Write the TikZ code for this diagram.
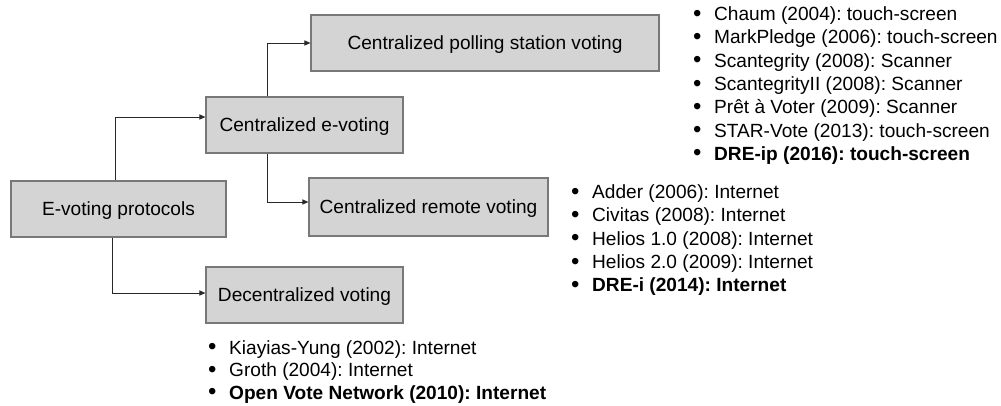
\documentclass[tikz,border=0pt]{standalone}
\usepackage{fontspec}
\setmainfont{Liberation Sans}
\usetikzlibrary{arrows.meta}
\frenchspacing
\definecolor{boxfill}{RGB}{212,212,212}
\definecolor{boxline}{RGB}{120,120,120}
\definecolor{connline}{RGB}{40,40,40}
\newcommand{\bul}{\llap{\makebox[34pt][c]{\raisebox{-0.6pt}{\scalebox{1.25}{\textbullet}}}}}
\tikzset{
  catbox/.style={draw=boxline, fill=boxfill, line width=1.1pt, inner sep=0pt,
    minimum height=56pt, text height=13.7pt, text depth=0pt,
    font=\fontsize{19.1}{23.3}\selectfont, text=black},
  conn/.style={draw=connline, line width=1pt, -{Triangle[length=6pt,width=5pt]}},
  item/.style={anchor=base west, inner sep=0pt, font=\fontsize{19.1}{23.3}\selectfont, text=black},
}
\begin{document}
\begin{tikzpicture}[x=1pt,y=-1pt]
\useasboundingbox[fill=white] (0,0) rectangle (1001,405);

% boxes
\node[catbox, minimum width=215pt] (ev) at (118.5,209) {E-voting protocols};
\node[catbox, minimum width=197pt] (cev) at (304.5,125) {Centralized e-voting};
\node[catbox, minimum width=348pt] (poll) at (485,43) {Centralized polling station voting};
\node[catbox, minimum width=239pt, minimum height=58pt] (rem) at (428.5,207) {Centralized remote voting};
\node[catbox, minimum width=197pt] (dec) at (304.5,295) {Decentralized voting};

% connectors
\draw[conn] ([xshift=-3.5pt]ev.north) |- ([yshift=8pt]cev.west);
\draw[conn] ([xshift=-37.5pt]cev.north) |- (poll.west);
\draw[conn] ([xshift=-37.5pt]cev.south) |- ([yshift=5pt]rem.west);
\draw[conn] ([xshift=-6.5pt]ev.south) |- ([yshift=2pt]dec.west);

% polling station list
\node[item] (p1) at (714,20.5) {\bul Chaum (2004): touch-screen};
\node[item] (p2) at (714,43.8) {\bul MarkPledge (2006): touch-screen};
\node[item] (p3) at (714,67.1) {\bul Scantegrity (2008): Scanner};
\node[item] (p4) at (714,90.4) {\bul ScantegrityII (2008): Scanner};
\node[item] (p5) at (714,113.7) {\bul Prêt à Voter (2009): Scanner};
\node[item] (p6) at (714,137.0) {\bul STAR-Vote (2013): touch-screen};
\node[item] (p7) at (714,160.3) {\bul\textbf{DRE-ip (2016): touch-screen}};

% remote list
\node[item] (r1) at (592,198.5) {\bul Adder (2006): Internet};
\node[item] (r2) at (592,221.8) {\bul Civitas (2008): Internet};
\node[item] (r3) at (592,245.1) {\bul Helios 1.0 (2008): Internet};
\node[item] (r4) at (592,268.4) {\bul Helios 2.0 (2009): Internet};
\node[item] (r5) at (592,291.7) {\bul\textbf{DRE-i (2014): Internet}};

% decentralized list
\node[item] (d1) at (229,354) {\bul Kiayias-Yung (2002): Internet};
\node[item] (d2) at (229,376.5) {\bul Groth (2004): Internet};
\node[item] (d3) at (229,399) {\bul\textbf{Open Vote Network (2010): Internet}};
\end{tikzpicture}
\end{document}
